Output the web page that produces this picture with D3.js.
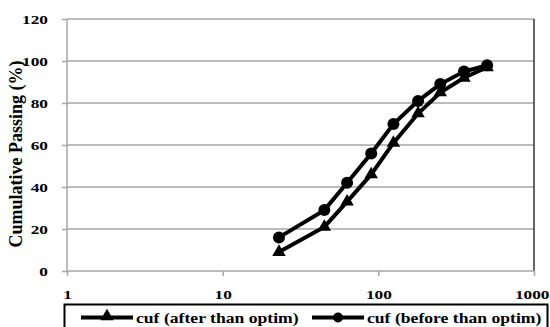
<!DOCTYPE html>
<html>
<head>
<meta charset="utf-8">
<script src="https://cdnjs.cloudflare.com/ajax/libs/d3/7.8.5/d3.min.js"></script>
<style>
  body { margin: 0; background: #fff; }
  svg text { font-family: "Liberation Serif", "Times New Roman", serif; font-weight: bold; fill: #000; }
</style>
</head>
<body>
<script>
(function(){

//sieve sizes (x values)
var sizes = [23, 45, 63, 90, 125, 180, 250, 355, 500];
//series values, cumulative passing %
var afterOptim = [9, 21, 33, 46, 61, 75, 85, 92, 97];
var beforeOptim = [16, 29, 42, 56, 70, 81, 89, 95, 98];
var seriesNames = ["cuf (after than optim)", "cuf (before than optim)"];
var yTicks = [0, 20, 40, 60, 80, 100, 120];
var xTicks = [1, 10, 100, 1000];

var width = 550, height = 327;
var left = 67, right = 534, top = 19, bottom = 271;
var stretch = 1.33; //labels in the picture are wider than tall

var svg = d3.select("body").append("svg")
    .attr("width", width)
    .attr("height", height);

var x = d3.scaleLog().domain([1, 1000]).range([left, right]);
var y = d3.scaleLinear().domain([0, 120]).range([bottom, top]);

//horizontal gridlines
svg.append("g")
    .selectAll("line")
    .data(yTicks.filter(function(d){ return d > 0; }))
    .enter()
    .append("line")
    .attr("x1", left).attr("x2", right)
    .attr("y1", function(d){ return y(d); })
    .attr("y2", function(d){ return y(d); })
    .attr("stroke", "#a6a6a6")
    .attr("stroke-width", 1.5);

//right border
svg.append("line")
    .attr("x1", right).attr("x2", right)
    .attr("y1", top).attr("y2", bottom)
    .attr("stroke", "#333")
    .attr("stroke-width", 1.5);

//stretch tick text horizontally around its anchor
function widen(sel){
    sel.each(function(){
        var t = d3.select(this);
        var tx = +t.attr("x") || 0;
        t.attr("x", 0)
         .attr("transform", "translate(" + tx + ",0) scale(" + stretch + ",1)");
    });
}

//y axis
var yAxis = svg.append("g")
    .attr("transform", "translate(" + left + ",0)")
    .call(d3.axisLeft(y).tickValues(yTicks).tickSize(5).tickPadding(14));
yAxis.selectAll("path, line").attr("stroke", "#a6a6a6").attr("stroke-width", 1.5);
yAxis.select(".domain").attr("d", "M0," + top + "V" + bottom);
yAxis.selectAll("text").style("font-size", "13px").style("font-family", "Liberation Serif").style("font-weight", "bold");
widen(yAxis.selectAll("text"));

//x axis
var xAxis = svg.append("g")
    .attr("transform", "translate(0," + bottom + ")")
    .call(d3.axisBottom(x).tickValues(xTicks).tickFormat(d3.format("d")).tickSize(5).tickPadding(14));
xAxis.selectAll("path, line").attr("stroke", "#a6a6a6").attr("stroke-width", 1.5);
xAxis.select(".domain").attr("d", "M" + left + ",0H" + right);
xAxis.selectAll("text").style("font-size", "13px").style("font-family", "Liberation Serif").style("font-weight", "bold");
widen(xAxis.selectAll("text"));
//last label sits right at the edge; keep it inside the frame
xAxis.selectAll(".tick text").filter(function(d){ return d == 1000; })
    .attr("text-anchor", "end")
    .attr("transform", "translate(" + (width - right - 1) + ",0) scale(" + stretch + ",1)");

//y axis title
svg.append("text")
    .attr("transform", "translate(22," + 154 + ") rotate(-90)")
    .attr("text-anchor", "middle")
    .style("font-size", "18px")
    .text("Cumulative Passing (%)");

var line = d3.line()
    .x(function(d){ return x(d[0]); })
    .y(function(d){ return y(d[1]); });

var triData = sizes.map(function(s, i){ return [s, afterOptim[i]]; });
var cirData = sizes.map(function(s, i){ return [s, beforeOptim[i]]; });

var tri = d3.symbol().type(d3.symbolTriangle).size(78);

function drawSeries(data, marker){
    svg.append("path")
        .datum(data)
        .attr("d", line)
        .attr("fill", "none")
        .attr("stroke", "#000")
        .attr("stroke-width", 4);
    if (marker == "circle"){
        svg.append("g").selectAll("circle")
            .data(data).enter().append("circle")
            .attr("cx", function(d){ return x(d[0]); })
            .attr("cy", function(d){ return y(d[1]); })
            .attr("r", 6)
            .attr("fill", "#000");
    } else {
        svg.append("g").selectAll("path")
            .data(data).enter().append("path")
            .attr("d", tri)
            .attr("transform", function(d){ return "translate(" + x(d[0]) + "," + y(d[1]) + ")"; })
            .attr("fill", "#000");
    }
}

drawSeries(triData, "triangle");
drawSeries(cirData, "circle");

//legend
var legend = svg.append("g");
legend.append("rect")
    .attr("x", 64.5).attr("y", 304.5)
    .attr("width", 483).attr("height", 26)
    .attr("fill", "#fff")
    .attr("stroke", "#000")
    .attr("stroke-width", 2);

var legItems = [
    {name: seriesNames[0], marker: "triangle", x0: 81, tx: 136},
    {name: seriesNames[1], marker: "circle", x0: 312, tx: 367}
];
legItems.forEach(function(it){
    var ly = 317.5;
    legend.append("line")
        .attr("x1", it.x0).attr("x2", it.x0 + 52)
        .attr("y1", ly).attr("y2", ly)
        .attr("stroke", "#000").attr("stroke-width", 4);
    if (it.marker == "circle"){
        legend.append("circle").attr("cx", it.x0 + 26).attr("cy", ly).attr("r", 5).attr("fill", "#000");
    } else {
        legend.append("path").attr("d", tri)
            .attr("transform", "translate(" + (it.x0 + 26) + "," + (ly - 1) + ")")
            .attr("fill", "#000");
    }
    legend.append("text")
        .attr("transform", "translate(" + it.tx + "," + (ly + 5) + ") scale(1.26,1)")
        .style("font-size", "14px")
        .text(it.name);
});

})();
</script>
</body>
</html>
